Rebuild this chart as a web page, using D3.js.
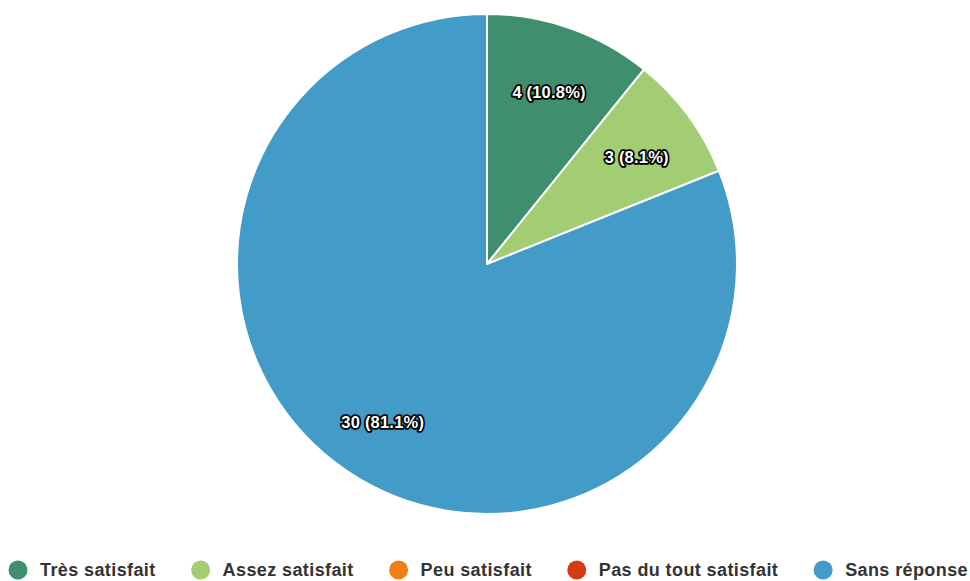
<!DOCTYPE html>
<html>
<head>
<meta charset="utf-8">
<script src="https://cdn.jsdelivr.net/npm/d3@7"></script>
<style>
  body { margin: 0; background: #fff; }
  svg { display: block; font-family: "Liberation Sans", Arial, Helvetica, sans-serif; }
</style>
</head>
<body>
<svg id="chart" width="970" height="581"></svg>
<script>
// données
var categories = ["Très satisfait", "Assez satisfait", "Peu satisfait", "Pas du tout satisfait", "Sans réponse"];
var counts = [4, 3, 0, 0, 30];
var colors = ["#3f8e6d", "#a3cd72", "#f07f16", "#d53b10", "#439cc7"];

var width = 970, height = 581;
var svg = d3.select("#chart");

var cx = 487, cy = 264, radius = 250;
var total = d3.sum(counts);

var data = categories.map(function(c, i) { return {name: c, value: counts[i], color: colors[i]}; });

var pie = d3.pie().sort(null).value(function(d) { return d.value; });
var arc = d3.arc().innerRadius(0).outerRadius(radius);
var labelArc = d3.arc().innerRadius(radius * 0.745).outerRadius(radius * 0.745);

var g = svg.append("g").attr("transform", "translate(" + cx + "," + cy + ")");

var arcs = pie(data);

g.selectAll("path")
    .data(arcs.filter(function(d) { return d.data.value > 0; }))
    .enter().append("path")
    .attr("d", arc)
    .attr("fill", function(d) { return d.data.color; })
    .attr("stroke", "#fff")
    .attr("stroke-width", 2)
    .attr("stroke-linejoin", "round");

// étiquettes
arcs.filter(function(d) { return d.data.value > 0; }).forEach(function(d) {
    var p = labelArc.centroid(d);
    var txt = d.data.value + " (" + (d.data.value / total * 100).toFixed(1) + "%)";
    g.append("text")
        .attr("x", p[0]).attr("y", p[1] + 4)
        .attr("text-anchor", "middle")
        .attr("dy", "0.35em")
        .style("font-size", "16.5px")
        .style("font-weight", "bold")
        .style("letter-spacing", "0.2px")
        .style("fill", "#fff")
        .style("stroke", "#000")
        .style("stroke-width", 3.5)
        .style("stroke-linejoin", "round")
        .style("paint-order", "stroke")
        .text(txt);
});

// légende
var legend = svg.append("g").attr("transform", "translate(0,570)");
var items = legend.selectAll("g.item").data(data).enter().append("g").attr("class", "item");
items.append("circle").attr("r", 9.5).attr("fill", function(d) { return d.color; });
items.append("text")
    .attr("x", 22)
    .attr("dy", "0.35em")
    .style("font-size", "18px")
    .style("font-weight", "bold")
    .style("letter-spacing", "0.4px")
    .style("fill", "#333")
    .text(function(d) { return d.name; });

var widths = [];
items.each(function() { widths.push(this.getBBox().width); });
var left = 8.5, right = 968;
var gap = (right - left - d3.sum(widths)) / (widths.length - 1);
var x = left;
items.each(function(d, i) {
    d3.select(this).attr("transform", "translate(" + (x + 9.5) + ",0)");
    x += widths[i] + gap;
});
</script>
</body>
</html>
